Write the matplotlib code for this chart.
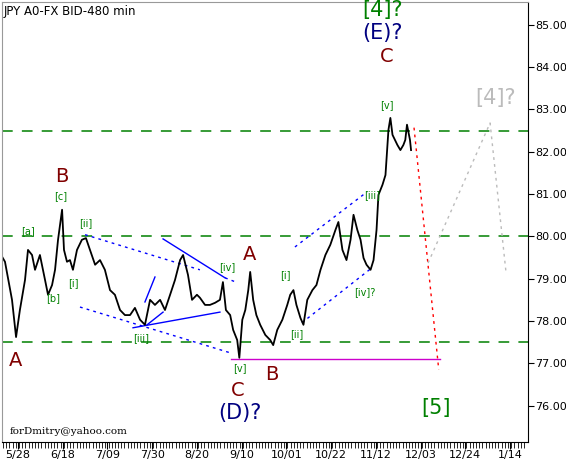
import numpy as np
import matplotlib
matplotlib.use("Agg")
import matplotlib.pyplot as plt

# day offsets from 5/28 and price
days = [-8.5, -6.1, -2.8, -0.9, 0.9, 3.3, 4.7, 6.6, 8.0, 10.3, 12.7, 14.1, 16.0, 17.4, 18.8,
        20.7, 21.6, 23.0, 24.4, 25.8, 27.7, 30.0, 31.9, 33.8, 36.2, 38.5, 40.8, 43.2, 45.5,
        47.9, 50.2, 52.6, 54.9, 57.3, 59.6, 62.0, 64.3, 66.7, 69.0, 71.4, 73.7, 76.1, 77.5,
        79.8, 81.7, 84.0, 85.4, 87.8, 90.1, 92.5, 94.8, 96.2, 97.6, 99.6, 101.0, 102.9, 103.9,
        105.3, 106.7, 108.1, 109.0, 110.4, 111.9, 113.7, 116.1, 118.4, 119.8, 121.7, 124.1,
        126.4, 127.8, 129.3, 130.7, 132.6, 134.0, 135.8, 138.2, 140.1, 142.0, 144.3, 146.6,
        149.0, 150.4, 152.3, 154.2, 156.1, 157.5, 159.3, 160.8, 162.2, 163.6, 165.5, 166.9,
        168.3, 169.2, 171.1, 172.5, 173.9, 174.8, 175.8, 178.1, 179.5, 180.9, 181.8, 182.6,
        184.0, 184.5]
price = [79.61, 79.40, 78.50, 77.62, 78.26, 78.97, 79.68, 79.56, 79.21, 79.56, 78.97, 78.62,
         78.85, 79.21, 79.92, 80.63, 79.68, 79.40, 79.44, 79.21, 79.68, 79.92, 79.96, 79.68,
         79.33, 79.44, 79.21, 78.73, 78.62, 78.26, 78.14, 78.14, 78.31, 78.03, 77.91, 78.50,
         78.38, 78.50, 78.26, 78.62, 78.97, 79.44, 79.56, 79.09, 78.50, 78.62, 78.55, 78.38,
         78.38, 78.43, 78.50, 78.92, 78.26, 78.14, 77.79, 77.55, 77.13, 78.03, 78.26, 78.73,
         79.16, 78.50, 78.14, 77.91, 77.67, 77.55, 77.43, 77.79, 78.03, 78.38, 78.62, 78.73,
         78.38, 78.07, 77.91, 78.50, 78.73, 78.85, 79.21, 79.56, 79.80, 80.15, 80.34, 79.68,
         79.44, 79.92, 80.51, 80.15, 79.92, 79.49, 79.33, 79.21, 79.44, 80.15, 80.98, 81.22,
         81.45, 82.52, 82.80, 82.40, 82.16, 82.04, 82.16, 82.28, 82.64, 82.28, 82.04]

tick_days = [0, 21, 42, 63, 84, 105, 126, 147, 168, 189, 210, 231]
tick_labels = ["5/28", "6/18", "7/09", "7/30", "8/20", "9/10", "10/01", "10/22",
               "11/12", "12/03", "12/24", "1/14"]
price_ticks = [76, 77, 78, 79, 80, 81, 82, 83, 84, 85]

levels = [82.5, 80.0, 77.5]

# trend lines (day, price)
blue_dotted = [([31.5, 85.4], [80.04, 79.21]), ([29.1, 99.5], [78.33, 77.25]),
               ([97.2, 102.3], [79.02, 78.92]), ([130.0, 163.8], [79.75, 81.05]),
               ([133.3, 166.2], [77.96, 79.26])]
blue_solid = [([68.1, 97.2], [79.94, 79.02]), ([54.0, 94.8], [77.84, 78.21]),
              ([59.6, 64.3], [78.45, 79.04]), ([60.6, 68.1], [77.91, 78.21])]
red_path = ([185.9, 197.5], [82.57, 76.85])
grey_path = ([192.5, 221.6, 229.1], [79.37, 82.68, 79.14])
support = ([100, 198], [77.1, 77.1])

fig = plt.figure(figsize=(5.66, 4.59), dpi=100)
ax = fig.add_axes([2 / 566, 17 / 459, 526 / 566, 440 / 459])
ax.set_xlim(-7.5, 239.4)
ax.set_ylim(75.14, 85.54)

for lv in levels:
    ax.axhline(lv, color="#008000", lw=1.1, dashes=(7, 6))
for xs, ys in blue_dotted:
    ax.plot(xs, ys, color="blue", lw=1, ls=(0, (2, 3)))
for xs, ys in blue_solid:
    ax.plot(xs, ys, color="blue", lw=1)
ax.plot(*support, color="#cc00cc", lw=1)
ax.plot(*red_path, color="red", lw=1, ls=(0, (2, 3)))
ax.plot(*grey_path, color="#bbbbbb", lw=1, ls=(0, (2, 3)))
ax.plot(days, price, color="black", lw=1.3)

ax.yaxis.tick_right()
ax.set_yticks(price_ticks)
ax.set_yticklabels([f"{p:.2f}" for p in price_ticks], fontsize=8)
ax.set_xticks(tick_days)
ax.set_xticklabels(tick_labels, fontsize=8)
ax.set_xticks(np.arange(-7, 239, 1.5), minor=True)
ax.tick_params(axis="x", which="minor", length=4, direction="out")
ax.tick_params(axis="x", which="major", length=5, pad=1)
ax.tick_params(axis="y", length=4, pad=1)
for s in ["top", "left"]:
    ax.spines[s].set_color("#999999")


def label(x, y, s, color, size, family=None):
    fig.text(x / 566, 1 - y / 459, s, color=color, fontsize=size, ha="center",
             va="center", family=family or "DejaVu Sans")


maroon = "#800000"
navy = "#000080"
green = "#008000"
label(16, 360, "A", maroon, 14)
label(62, 177, "B", maroon, 14)
label(250, 254, "A", maroon, 14)
label(238, 390, "C", maroon, 14)
label(272, 375, "B", maroon, 14)
label(387, 57, "C", maroon, 14)
label(240, 413, "(D)?", navy, 15)
label(383, 33, "(E)?", navy, 15)
label(383, 10, "[4]?", green, 15)
label(436, 408, "[5]", green, 15)
label(496, 98, "[4]?", "#bbbbbb", 15)
for x, y, s in [(28, 231, "[a]"), (53, 298, "[b]"), (61, 196, "[c]"), (73, 283, "[i]"),
                (86, 223, "[ii]"), (141, 338, "[iii]"), (227, 267, "[iv]"), (240, 368, "[v]"),
                (285, 275, "[i]"), (297, 334, "[ii]"), (372, 195, "[iii]"),
                (365, 292, "[iv]?"), (387, 105, "[v]")]:
    label(x, y, s, green, 7)

fig.text(4 / 566, 1 - 11 / 459, "JPY A0-FX BID-480 min", fontsize=8.5, va="center")
fig.text(10 / 566, 1 - 431 / 459, "forDmitry@yahoo.com", fontsize=7.5, va="center",
         family="DejaVu Serif")

fig.savefig("out.png", dpi=100)
